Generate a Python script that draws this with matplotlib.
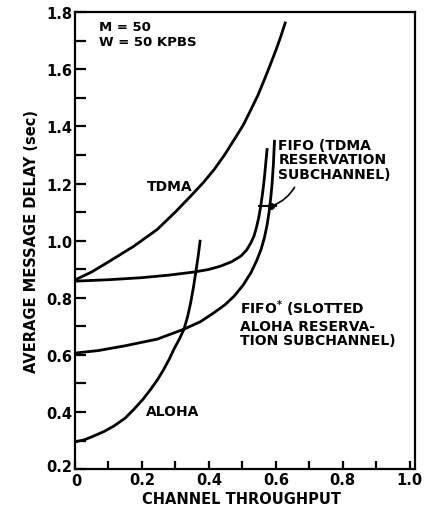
import matplotlib.pyplot as plt
from matplotlib.transforms import ScaledTranslation

# curves (throughput, delay in sec)
tdma_x = [0.0, 0.05, 0.097, 0.177, 0.246, 0.30, 0.346, 0.385, 0.416, 0.447, 0.476,
          0.503, 0.526, 0.547, 0.566, 0.585, 0.601, 0.615, 0.628]
tdma_y = [0.862, 0.89, 0.923, 0.981, 1.039, 1.10, 1.156, 1.205, 1.249, 1.30, 1.354,
          1.405, 1.459, 1.51, 1.564, 1.62, 1.669, 1.715, 1.762]

aloha_x = [0.0, 0.03, 0.057, 0.088, 0.117, 0.15, 0.177, 0.204, 0.227, 0.248, 0.266,
           0.282, 0.296, 0.312, 0.326, 0.337, 0.346, 0.354, 0.361, 0.368, 0.374]
aloha_y = [0.295, 0.303, 0.316, 0.332, 0.351, 0.378, 0.41, 0.445, 0.48, 0.515, 0.55,
           0.585, 0.62, 0.655, 0.69, 0.735, 0.783, 0.835, 0.888, 0.943, 0.998]

fifo_x = [0.0, 0.1, 0.197, 0.28, 0.356, 0.40, 0.436, 0.468, 0.496, 0.513, 0.526,
          0.535, 0.542, 0.549, 0.555, 0.561, 0.566, 0.570, 0.574]
fifo_y = [0.858, 0.863, 0.870, 0.879, 0.890, 0.899, 0.911, 0.926, 0.946, 0.967, 0.993,
          1.016, 1.045, 1.08, 1.12, 1.17, 1.22, 1.27, 1.319]

fifos_x = [0.0, 0.07, 0.147, 0.246, 0.326, 0.375, 0.416, 0.449, 0.476, 0.503, 0.526,
           0.543, 0.556, 0.566, 0.574, 0.580, 0.585, 0.589, 0.593, 0.596]
fifos_y = [0.606, 0.615, 0.631, 0.655, 0.69, 0.716, 0.748, 0.776, 0.806, 0.845, 0.888,
           0.93, 0.969, 1.01, 1.055, 1.10, 1.15, 1.20, 1.27, 1.348]

x_ticks = [0.0, 0.2, 0.4, 0.6, 0.8, 1.0]
x_labels = ['0', '0.2', '0.4', '0.6', '0.8', '1.0']
y_ticks = [0.2, 0.4, 0.6, 0.8, 1.0, 1.2, 1.4, 1.6, 1.8]
y_labels = ['0.2', '0.4', '0.6', '0.8', '1.0', '1.2', '1.4', '1.6', '1.8']

plt.rcParams['font.family'] = 'DejaVu Sans'
plt.rcParams['font.weight'] = 'bold'

fig = plt.figure(figsize=(4.25, 5.06), dpi=100)
ax = fig.add_axes([0.176, 0.071, 0.8, 0.903])

lw = 2.0
ax.plot(tdma_x, tdma_y, color='black', lw=lw)
ax.plot(aloha_x, aloha_y, color='black', lw=lw)
ax.plot(fifo_x, fifo_y, color='black', lw=lw)
ax.plot(fifos_x, fifos_y, color='black', lw=lw)

ax.set_xlim(0, 1.015)
ax.set_ylim(0.2, 1.795)

for s in ax.spines.values():
    s.set_linewidth(1.6)

ax.set_xticks(x_ticks)
ax.set_xticklabels(x_labels)
ax.set_yticks(y_ticks)
ax.set_yticklabels(y_labels)
ax.set_xticks([0.1, 0.3, 0.5, 0.7, 0.9], minor=True)
ax.set_yticks([0.3, 0.5, 0.7, 0.9, 1.1, 1.3, 1.5, 1.7], minor=True)
ax.tick_params(axis='both', which='both', direction='in', width=1.6, labelsize=10.5)
ax.tick_params(axis='y', which='both', length=8, pad=2)
ax.tick_params(axis='x', which='both', length=6, pad=2)

# corner labels sit a touch apart, as in the original
lab0 = ax.get_yticklabels()[0]
lab0.set_transform(lab0.get_transform() + ScaledTranslation(0, 3 / 72, fig.dpi_scale_trans))
xl0 = ax.get_xticklabels()[0]
xl0.set_transform(xl0.get_transform() + ScaledTranslation(1 / 72, -1 / 72, fig.dpi_scale_trans))

ax.set_xlabel('CHANNEL THROUGHPUT', fontsize=10.5, fontweight='bold')
ax.xaxis.set_label_coords(0.49, -0.048)
ax.set_ylabel('AVERAGE MESSAGE DELAY (sec)', fontsize=10.5, fontweight='bold', labelpad=5)

# labels on the plot
ax.text(0.072, 1.749, 'M = 50', fontsize=9.5, fontweight='bold', va='center', ha='left')
ax.text(0.072, 1.697, 'W = 50 KPBS', fontsize=9.5, fontweight='bold', va='center', ha='left')
ax.text(0.284, 1.19, 'TDMA', fontsize=10, fontweight='bold', va='center', ha='center')
ax.text(0.293, 0.403, 'ALOHA', fontsize=10, fontweight='bold', va='center', ha='center')
ax.text(0.608, 1.36, 'FIFO (TDMA\nRESERVATION\nSUBCHANNEL)', fontsize=10,
        fontweight='bold', va='top', ha='left', linespacing=1.05)
ax.text(0.494, 0.80, 'FIFO$^{*}$ (SLOTTED\nALOHA RESERVA-\nTION SUBCHANNEL)', fontsize=10,
        fontweight='bold', va='top', ha='left', linespacing=1.05)

# pointer to the FIFO (TDMA) curve
ax.plot([0.551, 0.60], [1.12, 1.12], color='black', lw=1.5)
ax.plot([0.585], [1.12], 'o', color='black', ms=4)
ax.annotate('', xy=(0.585, 1.12), xytext=(0.66, 1.195),
            arrowprops=dict(arrowstyle='-', color='black', lw=1.2,
                            connectionstyle='arc3,rad=-0.2'))

fig.savefig('out.png', dpi=100)
